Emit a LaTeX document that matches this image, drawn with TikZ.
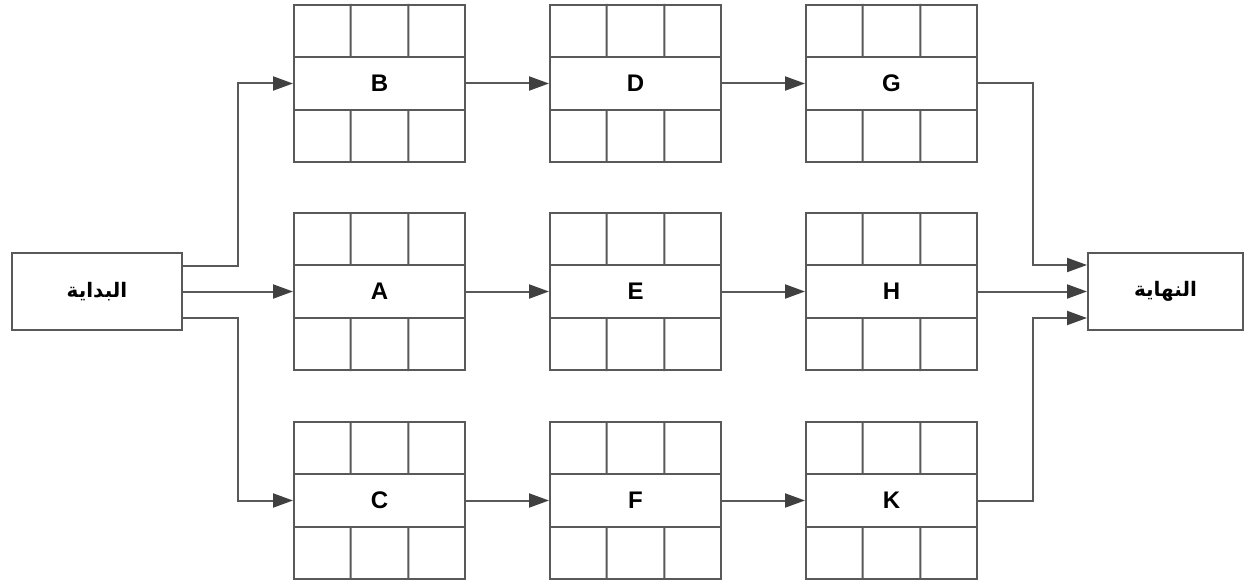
\documentclass[tikz,border=0pt]{standalone}
\usepackage{fontspec}
\setmainfont{Liberation Sans}
\newfontfamily\arabicfont[Script=Arabic]{DejaVu Sans}
\TeXXeTstate=1
\usetikzlibrary{calc,arrows.meta}
\definecolor{linec}{HTML}{595959}
\definecolor{tipc}{HTML}{404040}
\begin{document}
\begin{tikzpicture}[x=1pt,y=-1pt,
  task/.style={draw=linec,line width=2pt,fill=white,minimum width=171pt,minimum height=157pt,inner sep=0pt,
    font=\fontsize{24}{28}\selectfont\bfseries},
  term/.style={draw=linec,line width=2pt,fill=white,minimum height=77pt,inner sep=0pt,
    font=\fontsize{20}{24}\selectfont\arabicfont\bfseries},
  gridl/.style={draw=linec,line width=2pt},
  conn/.style={draw=linec,line width=2pt,-{Triangle[length=20pt,width=14pt,color=tipc]}},
  plain/.style={draw=linec,line width=2pt}]
\useasboundingbox (0,0) rectangle (1244,580);
\node[term,minimum width=170pt] (start) at (97,291.5) {\beginR البداية\endR};
\node[term,minimum width=155pt] (end) at (1165.5,291.5) {\beginR النهاية\endR};
\node[task] (B) at (379.5,83.5) {B};
\node[task] (D) at (635.5,83.5) {D};
\node[task] (G) at (891.5,83.5) {G};
\node[task] (A) at (379.5,291.5) {A};
\node[task] (E) at (635.5,291.5) {E};
\node[task] (H) at (891.5,291.5) {H};
\node[task] (C) at (379.5,500.5) {C};
\node[task] (F) at (635.5,500.5) {F};
\node[task] (K) at (891.5,500.5) {K};
\foreach \n in {A,B,C,D,E,F,G,H,K}{
  \draw[gridl] ($(\n.north west)!1/3!(\n.south west)$) -- ($(\n.north east)!1/3!(\n.south east)$);
  \draw[gridl] ($(\n.north west)!2/3!(\n.south west)$) -- ($(\n.north east)!2/3!(\n.south east)$);
  \draw[gridl] ($(\n.north west)!1/3!(\n.north east)$) -- ($(\n.north west)!1/3!(\n.north east)!1/3!($(\n.south west)!1/3!(\n.south east)$)$);
  \draw[gridl] ($(\n.north west)!2/3!(\n.north east)$) -- ($(\n.north west)!2/3!(\n.north east)!1/3!($(\n.south west)!2/3!(\n.south east)$)$);
  \draw[gridl] ($(\n.south west)!1/3!(\n.south east)$) -- ($(\n.south west)!1/3!(\n.south east)!1/3!($(\n.north west)!1/3!(\n.north east)$)$);
  \draw[gridl] ($(\n.south west)!2/3!(\n.south east)$) -- ($(\n.south west)!2/3!(\n.south east)!1/3!($(\n.north west)!2/3!(\n.north east)$)$);
}
% from start
\draw[conn] ([yshift=25.5pt]start.east) -- ++(55,0) |- (B.west);
\draw[conn] (start.east) -- (A.west);
\draw[conn] ([yshift=-26.5pt]start.east) -- ++(55,0) |- (C.west);
% rows
\draw[conn] (B.east) -- (D.west);
\draw[conn] (D.east) -- (G.west);
\draw[conn] (A.east) -- (E.west);
\draw[conn] (E.east) -- (H.west);
\draw[conn] (C.east) -- (F.west);
\draw[conn] (F.east) -- (K.west);
% to end
\draw[conn] (G.east) -- ++(55,0) |- ([yshift=26.5pt]end.west);
\draw[conn] (H.east) -- (end.west);
\draw[conn] (K.east) -- ++(55,0) |- ([yshift=-26.5pt]end.west);
\end{tikzpicture}
\end{document}
